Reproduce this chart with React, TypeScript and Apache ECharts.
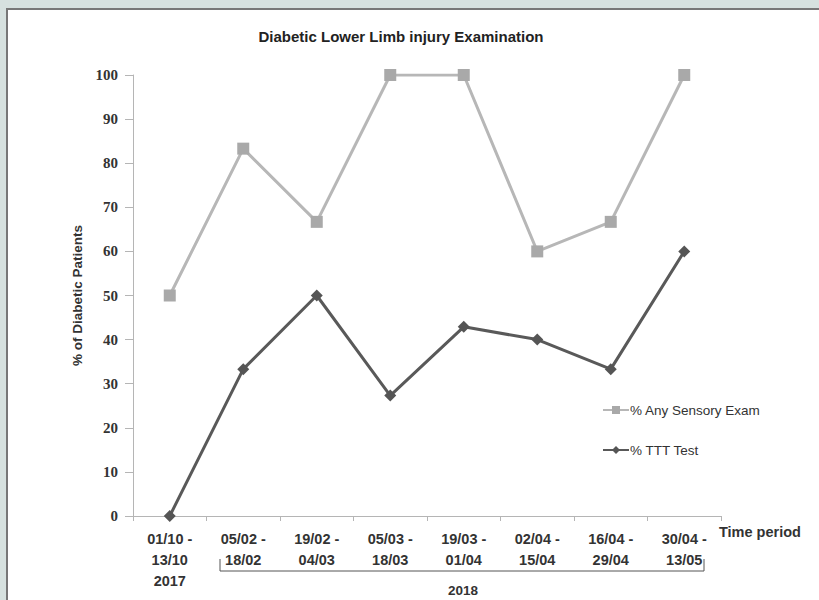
import React, { useEffect, useRef } from "react";
import * as echarts from "echarts";

const periodStarts = ["01/10 -", "05/02 -", "19/02 -", "05/03 -", "19/03 -", "02/04 -", "16/04 -", "30/04 -"];
const periodEnds = ["13/10", "18/02", "04/03", "18/03", "01/04", "15/04", "29/04", "13/05"];
const periodYears = ["2017", "", "", "", "", "", "", ""];
const anySensory = [50, 83.3, 66.7, 100, 100, 60, 66.7, 100];
const tttTest = [0, 33.3, 50, 27.3, 42.9, 40, 33.3, 60];
const yTicks = { min: 0, max: 100, interval: 10 };

const categories = periodStarts.map((s, i) => `${s}|${periodEnds[i]}|${periodYears[i]}`);

export default function App() {
  const ref = useRef<HTMLDivElement>(null);
  useEffect(() => {
    if (!ref.current) return;
    const chart = echarts.init(ref.current, null, { renderer: "svg" });
    const sans = "Liberation Sans, Arial, sans-serif";
    chart.setOption({
      animation: false,
      backgroundColor: "#d6e1df",
      title: {
        text: "Diabetic Lower Limb injury Examination",
        left: 396,
        textAlign: "center",
        top: 24,
        textStyle: { fontFamily: sans, fontSize: 15, fontWeight: "bold", color: "#222" },
      },
      grid: { left: 133, right: 98, top: 75, bottom: 84 },
      legend: {
        orient: "vertical",
        left: 597,
        top: 398,
        itemGap: 26,
        itemWidth: 26,
        itemHeight: 10,
        textStyle: { fontFamily: sans, fontSize: 13.5, color: "#333", padding: [0, 0, 0, -4] },
        data: ["% Any Sensory Exam", "% TTT Test"],
      },
      xAxis: {
        type: "category",
        data: categories,
        boundaryGap: true,
        axisLine: { lineStyle: { color: "#b5b5b5", width: 1 } },
        axisTick: { show: true, length: 5, lineStyle: { color: "#b5b5b5" } },
        axisLabel: {
          interval: 0,
          margin: 12,
          fontFamily: sans,
          fontSize: 14.5,
          fontWeight: "bold",
          color: "#333",
          lineHeight: 21,
          formatter: (v: string) => v.split("|").filter((p) => p !== "").join("\n"),
        },
      },
      yAxis: {
        type: "value",
        min: yTicks.min,
        max: yTicks.max,
        interval: yTicks.interval,
        name: "% of Diabetic Patients",
        nameLocation: "middle",
        nameGap: 47,
        nameTextStyle: { fontFamily: sans, fontSize: 13.5, fontWeight: "bold", color: "#333" },
        splitLine: { show: false },
        axisLine: { show: true, lineStyle: { color: "#b5b5b5", width: 1 } },
        axisTick: { show: true, length: 8, lineStyle: { color: "#b5b5b5" } },
        axisLabel: {
          margin: 15,
          fontFamily: "Liberation Serif, DejaVu Serif, serif",
          fontSize: 15,
          fontWeight: "bold",
          color: "#333",
        },
      },
      graphic: [
        {
          type: "rect",
          z: -10,
          shape: { x: 7, y: 9, width: 830, height: 610 },
          style: { fill: "#ffffff", stroke: "#777777", lineWidth: 2 },
        },
        {
          type: "text",
          left: 719,
          top: 524,
          style: { text: "Time period", fontFamily: sans, fontSize: 14.5, fontWeight: "bold", fill: "#333" },
        },
        {
          type: "polyline",
          shape: { points: [[220, 559], [220, 571], [704, 571], [704, 559]] },
          style: { stroke: "#555", lineWidth: 1, fill: "none" },
        },
        {
          type: "text",
          x: 463,
          y: 583,
          style: { text: "2018", fontFamily: sans, fontSize: 13.5, fontWeight: "bold", fill: "#333", align: "center" },
        },
      ],
      series: [
        {
          name: "% Any Sensory Exam",
          type: "line",
          data: anySensory,
          symbol: "rect",
          symbolSize: 12,
          lineStyle: { color: "#b7b7b7", width: 3 },
          itemStyle: { color: "#a9a9a9" },
        },
        {
          name: "% TTT Test",
          type: "line",
          data: tttTest,
          symbol: "diamond",
          symbolSize: 12,
          lineStyle: { color: "#595959", width: 3 },
          itemStyle: { color: "#555555" },
        },
      ],
    });
    return () => chart.dispose();
  }, []);
  return <div ref={ref} style={{ position: "fixed", left: 0, top: 0, width: 819, height: 600 }} />;
}
